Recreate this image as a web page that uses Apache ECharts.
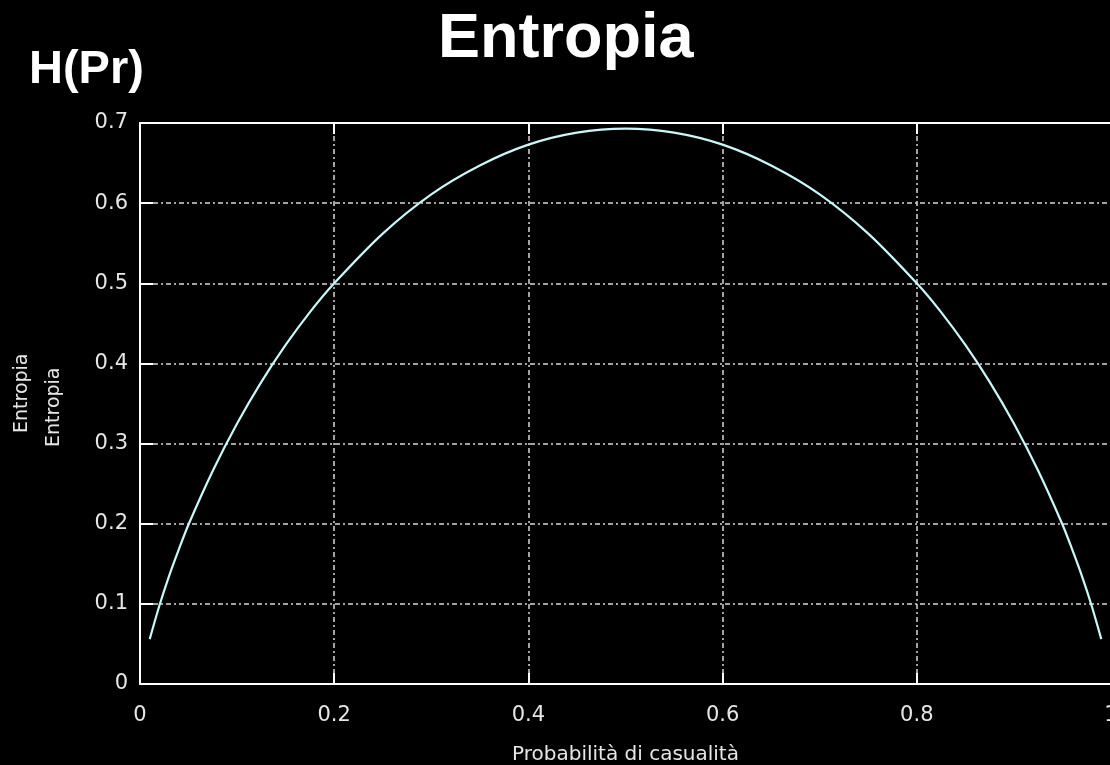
<!DOCTYPE html>
<html>
<head>
<meta charset="utf-8">
<script src="https://cdn.jsdelivr.net/npm/echarts@6/dist/echarts.min.js"></script>
<style>
  html, body { margin: 0; padding: 0; background: #000; }
  #chart { width: 1110px; height: 765px; }
</style>
</head>
<body>
<div id="chart"></div>
<script>
// probability values (x) and entropy (y)
const probs = [0.01, 0.02, 0.03, 0.04, 0.05, 0.075, 0.1, 0.125, 0.15, 0.175, 0.2, 0.25, 0.3, 0.35, 0.4, 0.45, 0.5,
  0.55, 0.6, 0.65, 0.7, 0.75, 0.8, 0.825, 0.85, 0.875, 0.9, 0.925, 0.95, 0.96, 0.97, 0.98, 0.99]
const entropy = [0.056, 0.098, 0.135, 0.168, 0.199, 0.266, 0.325, 0.377, 0.423, 0.464, 0.500, 0.562, 0.611, 0.647, 0.673, 0.688, 0.693,
  0.688, 0.673, 0.647, 0.611, 0.562, 0.500, 0.464, 0.423, 0.377, 0.325, 0.266, 0.199, 0.168, 0.135, 0.098, 0.056]
const xTicks = [0, 0.2, 0.4, 0.6, 0.8, 1]
const yTicks = [0, 0.1, 0.2, 0.3, 0.4, 0.5, 0.6, 0.7]

const chart = echarts.init(document.getElementById('chart'))

const labelColor = '#e6e6e6'
const gridLine = { lineStyle: { color: '#d8d8d8', width: 1.5, type: [5, 3, 2, 3] } }

const option = {
  backgroundColor: '#000',
  animation: false,
  title: {
    text: 'Entropia',
    left: 433,
    top: 3,
    textStyle: { color: '#fff', fontSize: 63, fontWeight: 'bold', fontFamily: 'Liberation Sans' }
  },
  graphic: [
    {
      type: 'text', left: 29, top: 47,
      style: { text: 'H(Pr)', fill: '#fff', font: 'bold 47px "Liberation Sans"' }
    },
    {
      type: 'text', x: 13, y: 433, rotation: Math.PI / 2,
      style: { text: 'Entropia', fill: labelColor, font: '19px "DejaVu Sans"' }
    },
    {
      type: 'text', x: 45, y: 447, rotation: Math.PI / 2,
      style: { text: 'Entropia', fill: labelColor, font: '19px "DejaVu Sans"' }
    }
  ],
  grid: { left: 140, width: 971, top: 123, bottom: 81, containLabel: false, outerBoundsMode: 'none' },
  xAxis: [
    {
      type: 'value', min: 0, max: 1, interval: 0.2,
      name: 'Probabilità di casualità',
      nameLocation: 'middle', nameGap: 61,
      nameTextStyle: { color: labelColor, fontSize: 20, fontFamily: 'DejaVu Sans' },
      axisLine: { show: true, lineStyle: { color: '#fff', width: 2 } },
      axisTick: { show: true, inside: true, length: 11, lineStyle: { color: '#fff', width: 2 } },
      axisLabel: {
        color: labelColor, fontSize: 21, fontFamily: 'DejaVu Sans', margin: 21,
        formatter: v => xTicks.includes(+v.toFixed(1)) ? String(+v.toFixed(1)) : ''
      },
      splitLine: { show: true, ...gridLine }
    },
    {
      type: 'value', min: 0, max: 1, interval: 0.2, position: 'top',
      axisLine: { show: true, lineStyle: { color: '#fff', width: 2 } },
      axisTick: { show: true, inside: true, length: 11, lineStyle: { color: '#fff', width: 2 } },
      axisLabel: { show: false },
      splitLine: { show: false }
    }
  ],
  yAxis: {
    type: 'value', min: 0, max: 0.7, interval: 0.1,
    axisLine: { show: true, lineStyle: { color: '#fff', width: 2 } },
    axisTick: { show: true, inside: true, length: 13, lineStyle: { color: '#fff', width: 2 } },
    axisLabel: {
      color: labelColor, fontSize: 21, fontFamily: 'DejaVu Sans', margin: 12,
      formatter: v => {
        const r = +v.toFixed(1)
        return yTicks.includes(r) ? String(r) : ''
      }
    },
    splitLine: { show: true, ...gridLine }
  },
  series: [
    {
      type: 'line',
      data: probs.map((p, i) => [p, entropy[i]]),
      smooth: 0.3,
      showSymbol: false,
      lineStyle: { color: '#c8f8f8', width: 2.2 }
    }
  ]
}

chart.setOption(option)
</script>
</body>
</html>
